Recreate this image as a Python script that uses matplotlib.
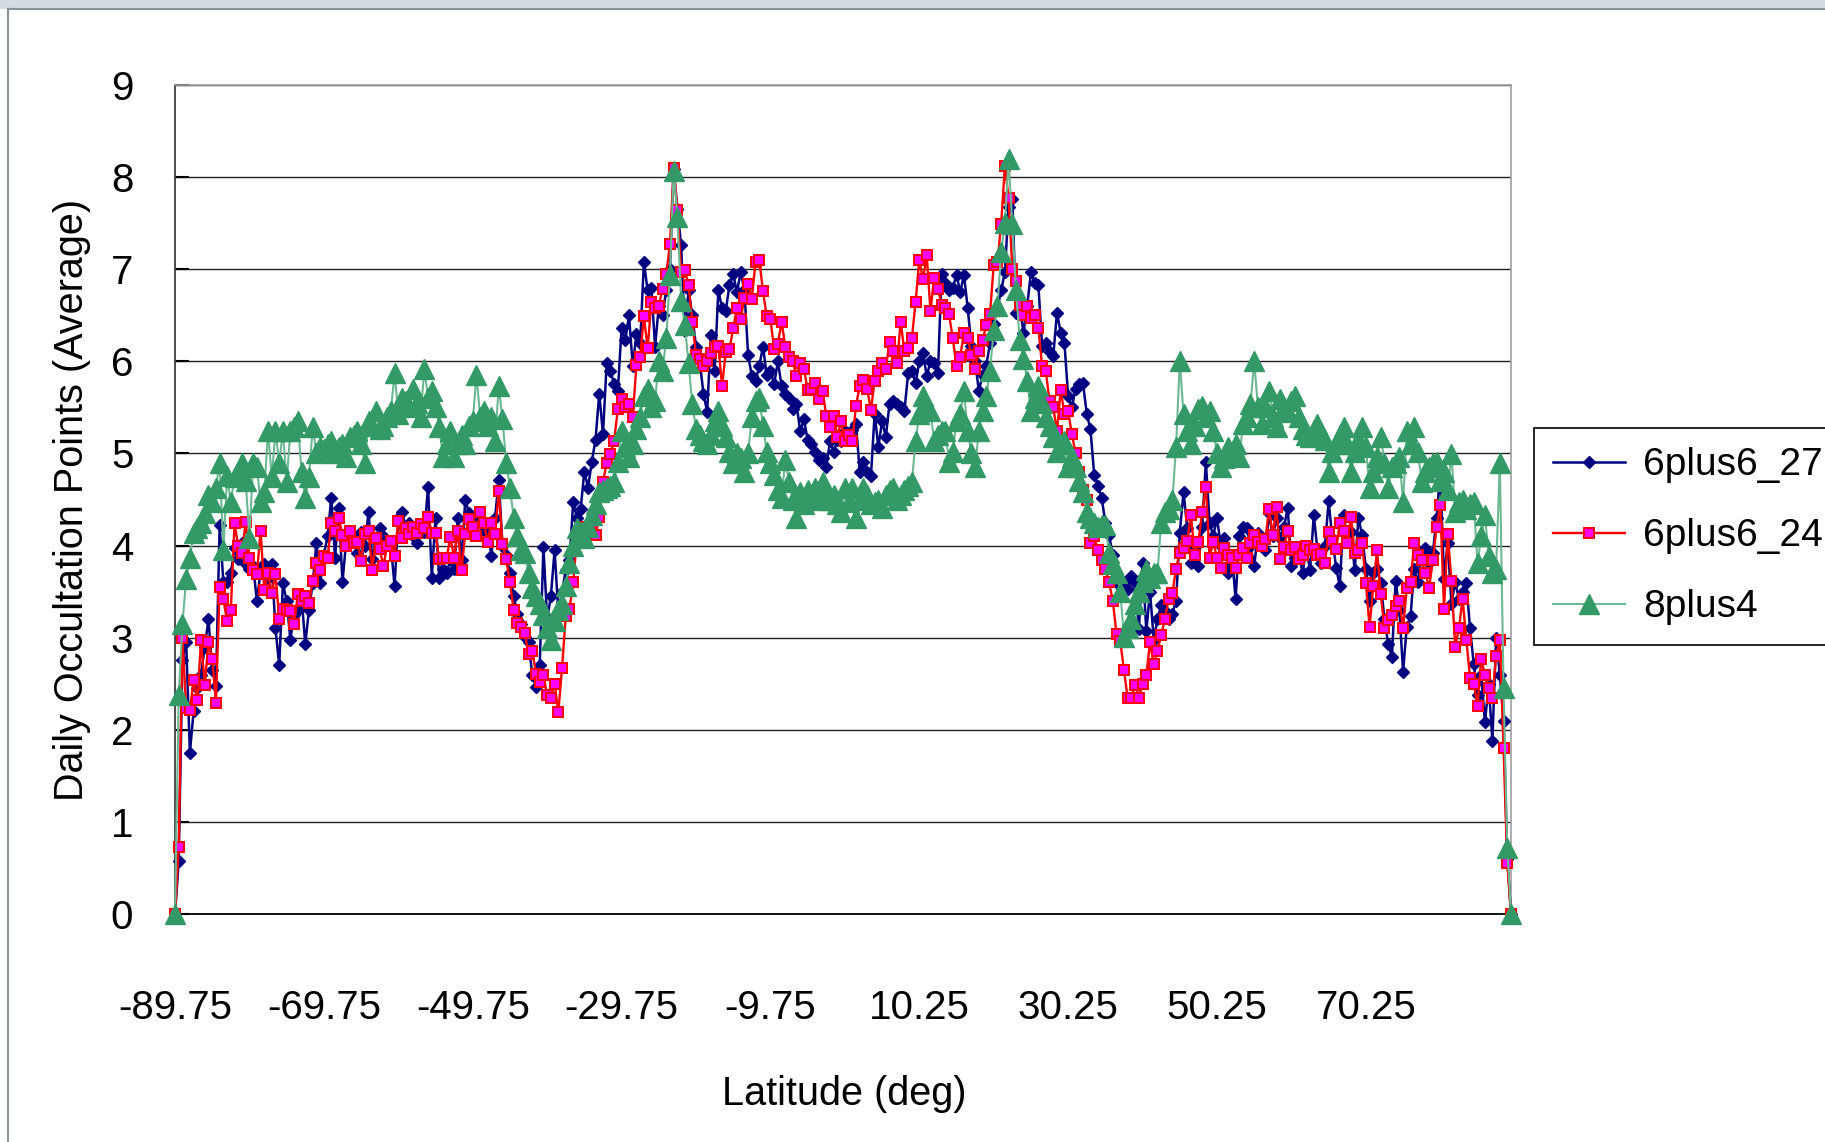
import numpy as np
import matplotlib
matplotlib.use("Agg")
import matplotlib.pyplot as plt
from matplotlib.lines import Line2D
from matplotlib.patches import Rectangle

# Latitude categories (0.5 deg bins)
lat = np.arange(-89.75, 89.76, 0.5)
tick_positions = [-89.75, -69.75, -49.75, -29.75, -9.75, 10.25, 30.25, 50.25, 70.25]
tick_labels = ["-89.75", "-69.75", "-49.75", "-29.75", "-9.75", "10.25", "30.25", "50.25", "70.25"]

s_6plus6_27 = [
    0, 0.57, 2.76, 2.95, 1.75, 2.2, 2.45, 2.6, 2.9, 3.2,
    2.65, 2.48, 4.22, 3.6, 3.6, 3.7, 3.97, 3.85, 4.03, 3.8,
    3.75, 3.78, 3.4, 3.72, 3.8, 3.65, 3.8, 3.1, 2.7, 3.59,
    3.4, 2.98, 3.25, 3.3, 3.45, 2.93, 3.3, 3.59, 4.03, 3.59,
    3.9, 4.1, 4.52, 3.86, 4.41, 3.6, 4.05, 4.08, 4.1, 3.92,
    4.15, 4.0, 4.36, 3.85, 4.05, 4.19, 4.1, 4.05, 4.0, 3.56,
    4.3, 4.36, 4.2, 4.25, 4.1, 4.03, 4.2, 4.15, 4.64, 3.65,
    4.3, 3.65, 3.75, 3.7, 3.85, 3.75, 4.3, 3.84, 4.5, 4.35,
    4.2, 4.3, 4.25, 4.15, 4.2, 3.89, 4.3, 4.71, 4.0, 3.9,
    3.7, 3.45, 3.26, 3.15, 3.01, 2.95, 2.6, 2.46, 2.7, 3.98,
    3.2, 3.45, 3.95, 3.28, 3.5, 3.73, 3.84, 4.47, 4.3, 4.4,
    4.8, 4.63, 4.91, 5.15, 5.65, 5.21, 5.98, 5.9, 5.75, 5.68,
    6.36, 6.23, 6.5, 5.95, 6.3, 6.2, 7.08, 6.77, 6.8, 6.16,
    6.6, 6.5, 6.77, 7.0, 8.09, 7.65, 7.26, 6.33, 6.77, 6.5,
    6.16, 6.0, 5.65, 5.45, 6.29, 5.9, 6.77, 6.58, 6.55, 6.83,
    6.95, 6.75, 6.97, 6.77, 6.07, 5.84, 5.79, 5.95, 6.16, 5.85,
    5.9, 5.75, 6.0, 5.73, 5.65, 5.6, 5.48, 5.54, 5.24, 5.37,
    5.15, 5.1, 5.02, 4.93, 4.95, 4.85, 5.13, 5.02, 5.15, 5.13,
    5.24, 5.2, 5.25, 5.32, 4.8, 4.91, 4.8, 4.75, 5.43, 5.07,
    5.35, 5.18, 5.54, 5.57, 5.54, 5.5, 5.46, 5.87, 5.9, 5.76,
    6.0, 6.09, 5.84, 6.0, 5.98, 5.87, 6.95, 6.85, 6.77, 6.8,
    6.94, 6.75, 6.94, 6.58, 6.17, 6.0, 5.68, 5.85, 5.95, 6.2,
    6.41, 6.58, 6.77, 6.97, 7.68, 7.76, 6.53, 6.6, 6.31, 6.6,
    6.97, 6.85, 6.83, 6.17, 6.2, 6.1, 6.06, 6.53, 6.31, 6.2,
    5.62, 5.5, 5.7, 5.75, 5.76, 5.43, 5.26, 4.77, 4.65, 4.52,
    4.25, 4.11, 3.9, 3.64, 3.56, 3.6, 3.53, 3.67, 3.6, 3.09,
    3.81, 3.07, 3.5, 2.98, 3.2, 3.35, 3.29, 3.2, 3.26, 3.4,
    4.14, 4.58, 4.19, 3.81, 4.0, 3.78, 4.2, 4.91, 4.25, 4.1,
    4.3, 4.0, 4.08, 3.7, 3.9, 3.42, 4.1, 4.2, 4.19, 4.0,
    3.78, 4.14, 4.0, 3.95, 4.35, 4.1, 4.3, 4.08, 4.2, 4.41,
    3.78, 3.86, 3.9, 3.7, 3.97, 3.73, 4.33, 3.95, 3.81, 4.0,
    4.48, 4.08, 3.76, 3.56, 4.33, 4.1, 4.15, 3.73, 4.3, 4.11,
    3.75, 3.4, 3.7, 3.75, 3.59, 3.2, 2.93, 2.79, 3.62, 3.3,
    2.63, 3.12, 3.23, 3.75, 3.6, 3.9, 3.97, 3.81, 3.92, 4.3,
    4.8, 3.64, 4.03, 3.37, 3.6, 3.42, 3.5, 3.59, 3.1, 2.71,
    2.38, 2.6, 2.08, 2.5, 1.88, 3.0, 2.6, 2.1, 0.6, 0,
]

s_6plus6_24 = [
    0, 0.73, 3.0, 2.24, 2.21, 2.54, 2.32, 2.97, 2.49, 2.95,
    2.77, 2.29, 3.55, 3.42, 3.18, 3.3, 4.24, 4.0, 3.92, 4.26,
    3.86, 3.73, 3.69, 4.16, 3.52, 3.7, 3.49, 3.69, 3.2, 3.31,
    3.3, 3.29, 3.15, 3.47, 3.4, 3.45, 3.38, 3.62, 3.81, 3.74,
    3.89, 3.87, 4.24, 4.16, 4.3, 4.11, 4.0, 4.16, 4.03, 4.04,
    3.83, 4.13, 4.16, 3.74, 4.08, 3.96, 3.78, 4.0, 4.05, 3.89,
    4.27, 4.08, 4.19, 4.13, 4.2, 4.14, 4.23, 4.19, 4.31, 4.14,
    4.14, 3.85, 3.86, 3.87, 4.09, 3.87, 4.16, 3.74, 4.13, 4.29,
    4.2, 4.1, 4.36, 4.25, 4.04, 4.24, 4.13, 4.59, 4.02, 3.85,
    3.6, 3.3, 3.16, 3.12, 3.05, 2.82, 2.86, 2.61, 2.52, 2.59,
    2.38, 2.35, 2.5, 2.19, 2.67, 3.23, 3.31, 3.6, 4.08, 4.19,
    4.2, 4.15, 4.25, 4.11, 4.31, 4.69, 4.9, 4.99, 5.14, 5.48,
    5.59, 5.5, 5.54, 5.4, 5.96, 6.05, 6.49, 6.14, 6.64, 6.58,
    6.6, 6.79, 6.95, 7.27, 8.1, 7.64, 6.97, 6.99, 6.83, 6.43,
    6.07, 6.03, 5.95, 6.0, 6.09, 6.16, 6.17, 5.73, 6.1, 6.13,
    6.36, 6.58, 6.46, 6.69, 6.84, 6.68, 7.08, 7.1, 6.76, 6.49,
    6.46, 6.13, 6.19, 6.43, 6.16, 6.05, 6.0, 5.84, 5.98, 5.92,
    5.69, 5.7, 5.76, 5.59, 5.68, 5.41, 5.29, 5.41, 5.18, 5.35,
    5.13, 5.2, 5.14, 5.52, 5.73, 5.8, 5.7, 5.47, 5.79, 5.9,
    5.98, 5.92, 6.21, 6.11, 5.98, 6.43, 6.11, 6.15, 6.25, 6.64,
    7.1, 6.89, 7.15, 6.55, 6.91, 6.79, 6.61, 6.58, 6.51, 6.25,
    5.95, 6.05, 6.31, 6.25, 6.07, 5.92, 6.11, 6.23, 6.39, 6.51,
    7.05, 7.08, 7.49, 8.12, 7.77, 7.0, 6.87, 6.61, 6.5, 6.6,
    6.47, 6.5, 6.36, 5.95, 5.89, 5.57, 5.5, 5.24, 5.69, 5.43,
    5.46, 5.21, 5.0, 4.8, 4.6, 4.49, 4.03, 4.1, 3.95, 3.84,
    3.75, 3.6, 3.4, 3.04, 2.96, 2.65, 2.34, 2.35, 2.49, 2.35,
    2.5, 2.59, 2.95, 2.71, 2.85, 3.03, 3.2, 3.42, 3.48, 3.75,
    3.92, 3.97, 4.05, 4.33, 3.9, 4.04, 4.36, 4.64, 3.87, 4.04,
    3.87, 3.76, 3.97, 3.9, 3.86, 3.76, 3.9, 3.97, 3.87, 4.03,
    4.11, 4.04, 4.0, 4.07, 4.4, 4.11, 4.42, 3.85, 3.98, 4.16,
    3.95, 3.98, 3.85, 3.9, 4.0, 3.95, 3.96, 3.9, 3.91, 3.81,
    4.15, 4.05, 3.96, 4.25, 4.16, 4.03, 4.31, 3.92, 3.95, 4.03,
    3.59, 3.12, 3.56, 3.95, 3.47, 3.1, 3.19, 3.25, 3.34, 3.4,
    3.1, 3.54, 3.6, 4.03, 3.9, 3.84, 3.7, 3.54, 3.84, 4.2,
    4.44, 3.31, 4.13, 3.62, 2.9, 3.1, 3.42, 2.98, 2.56, 2.5,
    2.26, 2.77, 2.59, 2.45, 2.35, 2.8, 2.97, 1.8, 0.55, 0,
]

s_8plus4 = [
    0, 2.38, 3.15, 3.64, 3.86, 4.14, 4.19, 4.25, 4.35, 4.55,
    4.47, 4.63, 4.9, 3.95, 4.75, 4.47, 4.74, 4.8, 4.9, 4.7,
    4.08, 4.9, 4.85, 4.47, 4.58, 5.24, 4.74, 5.24, 4.9, 5.24,
    4.69, 5.24, 5.29, 5.35, 4.8, 4.52, 4.74, 5.29, 5.0, 5.07,
    5.05, 5.1, 5.13, 5.0, 5.07, 5.1, 4.96, 5.18, 5.2, 5.24,
    5.1, 4.9, 5.35, 5.3, 5.46, 5.26, 5.3, 5.4, 5.46, 5.87,
    5.43, 5.6, 5.57, 5.5, 5.7, 5.55, 5.4, 5.92, 5.6, 5.68,
    5.5, 5.29, 4.96, 5.1, 5.24, 4.96, 5.1, 5.2, 5.1, 5.3,
    5.35, 5.85, 5.4, 5.46, 5.3, 5.4, 5.13, 5.73, 5.37, 4.9,
    4.63, 4.3, 4.1, 3.95, 3.92, 3.7, 3.54, 3.45, 3.37, 3.25,
    3.1, 2.98, 3.18, 3.3, 3.37, 3.56, 3.81, 4.0, 4.19, 4.15,
    4.08, 4.2, 4.33, 4.45, 4.58, 4.6, 4.63, 4.65, 4.69, 4.91,
    5.24, 5.07, 4.96, 5.1, 5.26, 5.4, 5.62, 5.7, 5.5, 5.57,
    6.0, 5.9, 6.25, 6.94, 8.07, 7.57, 6.66, 6.39, 5.98, 5.54,
    5.26, 5.2, 5.13, 5.1, 5.2, 5.35, 5.46, 5.3, 5.18, 5.02,
    4.9, 5.0, 4.95, 4.8, 5.0, 5.4, 5.57, 5.6, 5.3, 5.02,
    4.9, 4.77, 4.6, 4.52, 4.93, 4.69, 4.5, 4.3, 4.58, 4.45,
    4.6, 4.55, 4.63, 4.5, 4.69, 4.6, 4.5, 4.55, 4.45, 4.36,
    4.63, 4.47, 4.63, 4.3, 4.5, 4.63, 4.55, 4.45, 4.47, 4.5,
    4.41, 4.55, 4.6, 4.63, 4.5, 4.55, 4.6, 4.65, 4.69, 5.13,
    5.43, 5.62, 5.5, 5.46, 5.13, 5.2, 5.24, 5.24, 4.91, 5.02,
    5.35, 5.43, 5.68, 5.24, 5.0, 4.85, 5.24, 5.46, 5.62, 5.9,
    6.34, 6.6, 7.19, 7.5, 8.2, 7.49, 6.77, 6.23, 6.03, 5.79,
    5.46, 5.6, 5.73, 5.55, 5.4, 5.3, 5.18, 5.02, 5.1, 5.13,
    4.85, 4.96, 4.85, 4.7, 4.58, 4.36, 4.3, 4.25, 4.2, 4.22,
    4.22, 3.92, 3.8, 3.7, 3.5, 3.01, 3.1, 3.2, 3.37, 3.5,
    3.6, 3.73, 3.65, 3.7, 3.7, 4.25, 4.36, 4.4, 4.49, 5.07,
    6.0, 5.43, 5.24, 5.1, 5.3, 5.48, 5.51, 5.4, 5.46, 5.24,
    5.0, 4.85, 4.95, 5.07, 5.0, 5.1, 4.96, 5.32, 5.4, 5.54,
    6.0, 5.5, 5.32, 5.5, 5.68, 5.4, 5.29, 5.59, 5.5, 5.45,
    5.57, 5.62, 5.4, 5.26, 5.2, 5.18, 5.25, 5.32, 5.2, 5.15,
    4.8, 5.02, 5.1, 5.2, 5.29, 5.1, 4.8, 5.02, 5.15, 5.29,
    5.07, 4.63, 4.8, 4.96, 5.18, 4.9, 4.63, 4.85, 4.9, 4.96,
    4.47, 5.24, 5.1, 5.29, 5.02, 4.69, 4.8, 4.85, 4.9, 4.91,
    4.7, 4.8, 4.6, 4.99, 4.36, 4.47, 4.5, 4.4, 4.45, 4.47,
    3.81, 4.1, 4.33, 3.89, 3.7, 3.75, 4.9, 2.45, 0.72, 0,
]

series_names = ["6plus6_27", "6plus6_24", "8plus4"]

FONT = ["Liberation Sans", "DejaVu Sans"]
plt.rcParams["font.family"] = FONT

W, H = 1825, 1142
fig = plt.figure(figsize=(W / 100, H / 100), dpi=100)
fig.patch.set_facecolor("white")

L, R, T, B = 175, 1511, 85, 914
ax = fig.add_axes([L / W, 1 - B / H, (R - L) / W, (B - T) / H])

ax.plot(lat, s_6plus6_27, color="#000080", lw=1.8, marker="D", ms=6.0,
        mfc="#000080", mec="#000080", zorder=3, clip_on=False, label=series_names[0])
ax.plot(lat, s_6plus6_24, color="#ff0000", lw=1.7, marker="s", ms=7.2,
        mfc="#ff00ff", mec="#ff0000", mew=1.4, zorder=4, clip_on=False, label=series_names[1])
ax.plot(lat, s_8plus4, color="#6cb893", lw=1.5, marker="^", ms=14,
        mfc="#339966", mec="#339966", zorder=5, clip_on=False, label=series_names[2])

ax.set_xlim(-89.75, 89.75)
ax.set_ylim(0, 9)
ax.set_yticks(range(0, 10))
ax.set_xticks(tick_positions)
ax.set_xticklabels(tick_labels)
ax.yaxis.grid(True, color="#202020", lw=1.0)
ax.set_axisbelow(True)

for side in ("top", "right"):
    ax.spines[side].set_color("#a0a0a0")
    ax.spines[side].set_linewidth(1.2)
ax.spines["left"].set_color("#404040")
ax.spines["left"].set_linewidth(1.3)
ax.spines["bottom"].set_color("#000000")
ax.spines["bottom"].set_linewidth(1.3)

ax.tick_params(axis="y", direction="in", length=10, width=1.5, pad=30, labelsize=29, colors="#000000")
ax.tick_params(axis="x", length=0, pad=54, labelsize=29)

ax.set_ylabel("Daily Occultation Points (Average)", fontsize=28.5, va="center")
ax.yaxis.set_label_coords((72 - L) / (R - L), 0.5)
ax.set_xlabel("Latitude (deg)", fontsize=28.5, va="center")
ax.xaxis.set_label_coords((844 - L) / (R - L), (B - 1094) / (B - T))

leg = ax.legend(loc="upper left", bbox_to_anchor=(1534 / W, 1 - 428 / H),
                bbox_transform=fig.transFigure, borderaxespad=0, fancybox=False,
                edgecolor="#000000", fontsize=28, handlelength=1.85, handletextpad=0.45,
                borderpad=0.5, labelspacing=0.9, framealpha=1)
leg.get_frame().set_linewidth(1.2)

# chart-area frame
fig.add_artist(Rectangle((0, 1 - 9 / H), 1, 9 / H, transform=fig.transFigure,
                         facecolor="#d3dae2", edgecolor="none"))
fig.add_artist(Line2D([8 / W, 8 / W], [0, 1 - 9 / H], transform=fig.transFigure,
                      color="#8a9099", lw=1.5))
fig.add_artist(Line2D([8 / W, 1], [1 - 9 / H, 1 - 9 / H], transform=fig.transFigure,
                      color="#8a9099", lw=1.5))

fig.savefig("out.png", dpi=100)
